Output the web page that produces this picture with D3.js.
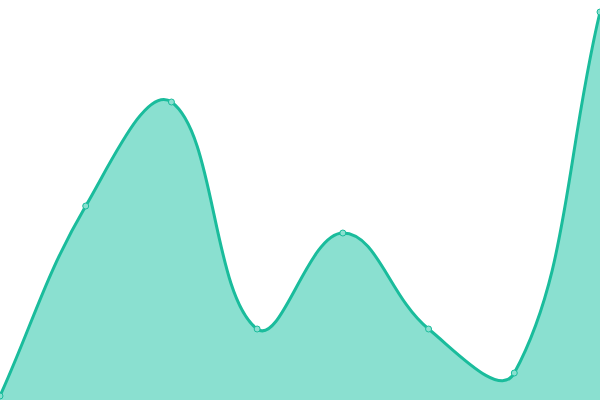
<!DOCTYPE html>
<html>
<head>
<meta charset="utf-8">
<script src="https://cdn.jsdelivr.net/npm/d3@7"></script>
<style>
  html, body { margin: 0; padding: 0; background: #fff; }
  svg { display: block; }
</style>
</head>
<body>
<svg id="chart" width="600" height="400"></svg>
<script>
// data
const categories = [0, 1, 2, 3, 4, 5, 6, 7];
const values = [1, 48.5, 74.5, 17.75, 41.75, 17.75, 6.75, 97];

const width = 600, height = 400;
const svg = d3.select("#chart");

const x = d3.scaleLinear()
  .domain(d3.extent(categories))
  .range([0, width]);
const y = d3.scaleLinear()
  .domain([0, 100])
  .range([height, 0]);

const pts = categories.map((c, i) => ({ c, v: values[i] }));

// spline with distance-weighted tangents (tension 0.4)
function SplineCurve(context) { this._context = context; }
SplineCurve.prototype = {
  areaStart() { this._line = 0; },
  areaEnd() { this._line = NaN; },
  lineStart() { this._xs = []; this._ys = []; },
  point(px, py) { this._xs.push(+px); this._ys.push(+py); },
  lineEnd() {
    const xs = this._xs, ys = this._ys, n = xs.length, t = 0.4, ctx = this._context;
    if (n) {
      if (this._line) ctx.lineTo(xs[0], ys[0]); else ctx.moveTo(xs[0], ys[0]);
      const cpPrev = [], cpNext = [];
      for (let i = 0; i < n; i++) {
        const p = Math.max(0, i - 1), q = Math.min(n - 1, i + 1);
        const d01 = Math.hypot(xs[i] - xs[p], ys[i] - ys[p]);
        const d12 = Math.hypot(xs[q] - xs[i], ys[q] - ys[i]);
        let s01 = d01 / (d01 + d12), s12 = d12 / (d01 + d12);
        if (isNaN(s01)) s01 = 0;
        if (isNaN(s12)) s12 = 0;
        const dx = xs[q] - xs[p], dy = ys[q] - ys[p];
        const clampY = v => Math.max(0, Math.min(height, v));
        cpPrev[i] = [xs[i] - t * s01 * dx, clampY(ys[i] - t * s01 * dy)];
        cpNext[i] = [xs[i] + t * s12 * dx, clampY(ys[i] + t * s12 * dy)];
      }
      for (let i = 0; i < n - 1; i++) {
        ctx.bezierCurveTo(cpNext[i][0], cpNext[i][1], cpPrev[i + 1][0], cpPrev[i + 1][1], xs[i + 1], ys[i + 1]);
      }
    }
    if (this._line || (this._line !== 0 && n === 1)) ctx.closePath();
    this._line = 1 - this._line;
  }
};
const curve = ctx => new SplineCurve(ctx);

// filled area
svg.append("path")
  .datum(pts)
  .attr("d", d3.area()
    .x(d => x(d.c))
    .y0(height)
    .y1(d => y(d.v))
    .curve(curve))
  .attr("fill", "#8ae0d0");

// outline
svg.append("path")
  .datum(pts)
  .attr("d", d3.line()
    .x(d => x(d.c))
    .y(d => y(d.v))
    .curve(curve))
  .attr("fill", "none")
  .attr("stroke", "#1abc9c")
  .attr("stroke-width", 3);

// point markers
svg.selectAll(".dot")
  .data(pts)
  .join("circle")
    .attr("class", "dot")
    .attr("cx", d => x(d.c))
    .attr("cy", d => y(d.v))
    .attr("r", 3)
    .attr("fill", "#8ae0d0")
    .attr("stroke", "#1abc9c")
    .attr("stroke-width", 1);
</script>
</body>
</html>
